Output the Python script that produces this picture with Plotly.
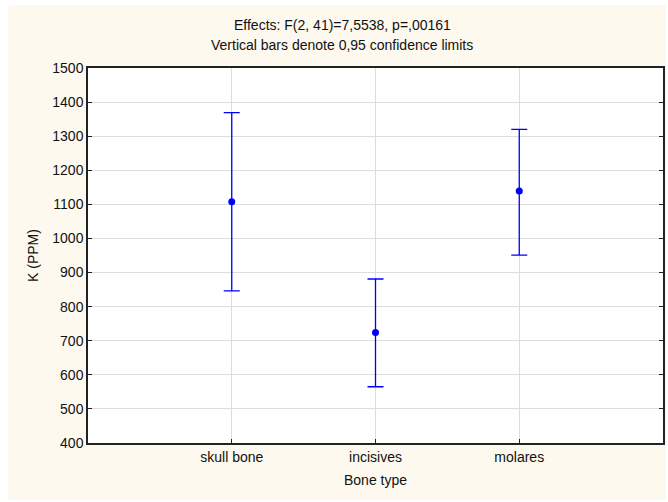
import plotly.graph_objects as go

categories = ["skull bone", "incisives", "molares"]
means = [1108, 724, 1139]
upper = [1369, 881, 1320]
lower = [846, 565, 951]

err_plus = [u - m for u, m in zip(upper, means)]
err_minus = [m - l for m, l in zip(means, lower)]

W, H = 668, 502
ml, mr, mt, mb = 88, 3, 68, 59
pw, ph = W - ml - mr, H - mt - mb

def px(x):
    return (x - ml) / pw

def py(y):
    return (H - mb - y) / ph

fig = go.Figure()
fig.add_trace(go.Scatter(
    x=categories, y=means, mode="markers",
    marker=dict(color="#0000FF", size=7),
    error_y=dict(type="data", symmetric=False, array=err_plus, arrayminus=err_minus,
                 color="#0000FF", thickness=1.3, width=8),
    showlegend=False,
))

font = "Liberation Sans, Arial, sans-serif"
fig.update_layout(
    width=W, height=H,
    margin=dict(l=ml, r=mr, t=mt, b=mb),
    paper_bgcolor="white",
    plot_bgcolor="white",
    font=dict(family=font, size=14, color="#111111"),
    shapes=[
        dict(type="rect", xref="paper", yref="paper", layer="below",
             x0=px(8), x1=px(668), y0=py(500), y1=py(5),
             fillcolor="#FDF9EE", line=dict(width=0)),
        dict(type="rect", xref="paper", yref="paper", layer="below",
             x0=0, x1=1, y0=0, y1=1, fillcolor="white", line=dict(width=0)),
    ],
    annotations=[
        dict(text="Effects: F(2, 41)=7,5538, p=,00161", xref="paper", yref="paper",
             x=px(343), y=py(25), xanchor="center", yanchor="middle",
             showarrow=False, font=dict(size=14)),
        dict(text="Vertical bars denote 0,95 confidence limits", xref="paper", yref="paper",
             x=px(343), y=py(45), xanchor="center", yanchor="middle",
             showarrow=False, font=dict(size=14)),
    ],
)
fig.update_xaxes(
    type="category", range=[-1, 3],
    showline=True, linecolor="#222222", linewidth=1.5, mirror=True,
    showgrid=True, gridcolor="#DDDDDD", gridwidth=1,
    ticks="inside", ticklen=4, tickcolor="#222222",
    title=dict(text="Bone type", standoff=12, font=dict(size=14)),
    tickfont=dict(size=14),
)
fig.update_yaxes(
    range=[400, 1500], dtick=100, tick0=400,
    showline=True, linecolor="#222222", linewidth=1.5, mirror="ticks",
    showgrid=True, gridcolor="#DDDDDD", gridwidth=1,
    ticks="inside", ticklen=4, tickcolor="#222222",
    title=dict(text="K (PPM)", standoff=10, font=dict(size=14)),
    tickfont=dict(size=14),
    zeroline=False,
)

fig.write_html("out.html")
